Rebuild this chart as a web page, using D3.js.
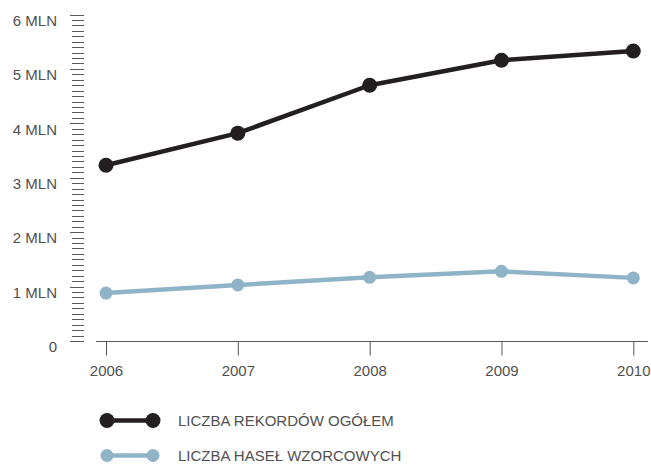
<!DOCTYPE html>
<html><head><meta charset="utf-8">
<script src="https://cdn.jsdelivr.net/npm/d3@7"></script>
<style>body{margin:0;background:#fff}svg{display:block}text{font-family:"Liberation Sans",Arial,sans-serif;font-weight:normal;fill:#505050}</style>
</head><body><svg id="c" width="651" height="464"></svg>
<script>
const years = [2006, 2007, 2008, 2009, 2010];
const rekordy = [3.23, 3.82, 4.70, 5.16, 5.33];
const hasla = [0.88, 1.03, 1.17, 1.28, 1.16];
const yTicks = [0, 1, 2, 3, 4, 5, 6];
const yTickLabels = ["0", "1 MLN", "2 MLN", "3 MLN", "4 MLN", "5 MLN", "6 MLN"];
const seriesNames = ["LICZBA REKORDÓW OGÓŁEM", "LICZBA HASEŁ WZORCOWYCH"];
const colors = ["#231f20", "#90b4c7"];

const svg = d3.select("#c");
const x = d3.scaleLinear().domain([2006, 2010]).range([106, 633.3]);
const y = d3.scaleLinear().domain([0, 6]).range([341, 14.5]);
const FS = 15;

// y axis minor ticks
const minor = d3.range(0, 61).map(i => i / 10);
svg.append("g").selectAll("line").data(minor).join("line")
  .attr("x1", d => (Math.round(d * 10) % 10 === 0) ? 70 : 72).attr("x2", 84)
  .attr("y1", d => Math.round(y(d)) + 0.5).attr("y2", d => Math.round(y(d)) + 0.5)
  .attr("stroke", "#5a5a5a").attr("stroke-width", 1);
svg.append("g").selectAll("text").data(yTicks).join("text")
  .attr("x", 57).attr("y", d => y(d) + 6).attr("dy", "0.35em")
  .attr("text-anchor", "end").attr("font-size", FS).text((d, i) => yTickLabels[i]);

// x axis
const xAxis = d3.axisBottom(x).tickValues(years).tickFormat(d3.format("d")).tickSize(14).tickPadding(10);
const gx = svg.append("g").attr("transform", "translate(0,341.5)").call(xAxis);
gx.select(".domain").attr("d", "M96,0H648").attr("stroke", "#555");
gx.selectAll(".tick line").attr("stroke", "#555");
gx.selectAll(".tick text").attr("font-size", FS).attr("fill", "#505050").style("font-family", "'Liberation Sans',Arial,sans-serif");

// series
const line = d3.line().x((d, i) => x(years[i])).y(d => y(d));
[[rekordy, 7.5], [hasla, 6.5]].forEach(([vals, r], k) => {
  svg.append("path").attr("d", line(vals)).attr("fill", "none")
    .attr("stroke", colors[k]).attr("stroke-width", 4.5).attr("stroke-linejoin", "round");
  svg.append("g").selectAll("circle").data(vals).join("circle")
    .attr("cx", (d, i) => x(years[i])).attr("cy", d => y(d)).attr("r", r).attr("fill", colors[k]);
});

// legend
const legY = [420.5, 455.5];
seriesNames.forEach((name, k) => {
  const g = svg.append("g");
  g.append("line").attr("x1", 107).attr("x2", 153).attr("y1", legY[k]).attr("y2", legY[k])
    .attr("stroke", colors[k]).attr("stroke-width", 4.5);
  g.selectAll("circle").data([107, 153]).join("circle").attr("cx", d => d).attr("cy", legY[k])
    .attr("r", k === 0 ? 7.5 : 6.5).attr("fill", colors[k]);
  g.append("text").attr("x", 178).attr("y", legY[k]).attr("dy", "0.35em").attr("font-size", FS).text(name);
});
</script></body></html>
